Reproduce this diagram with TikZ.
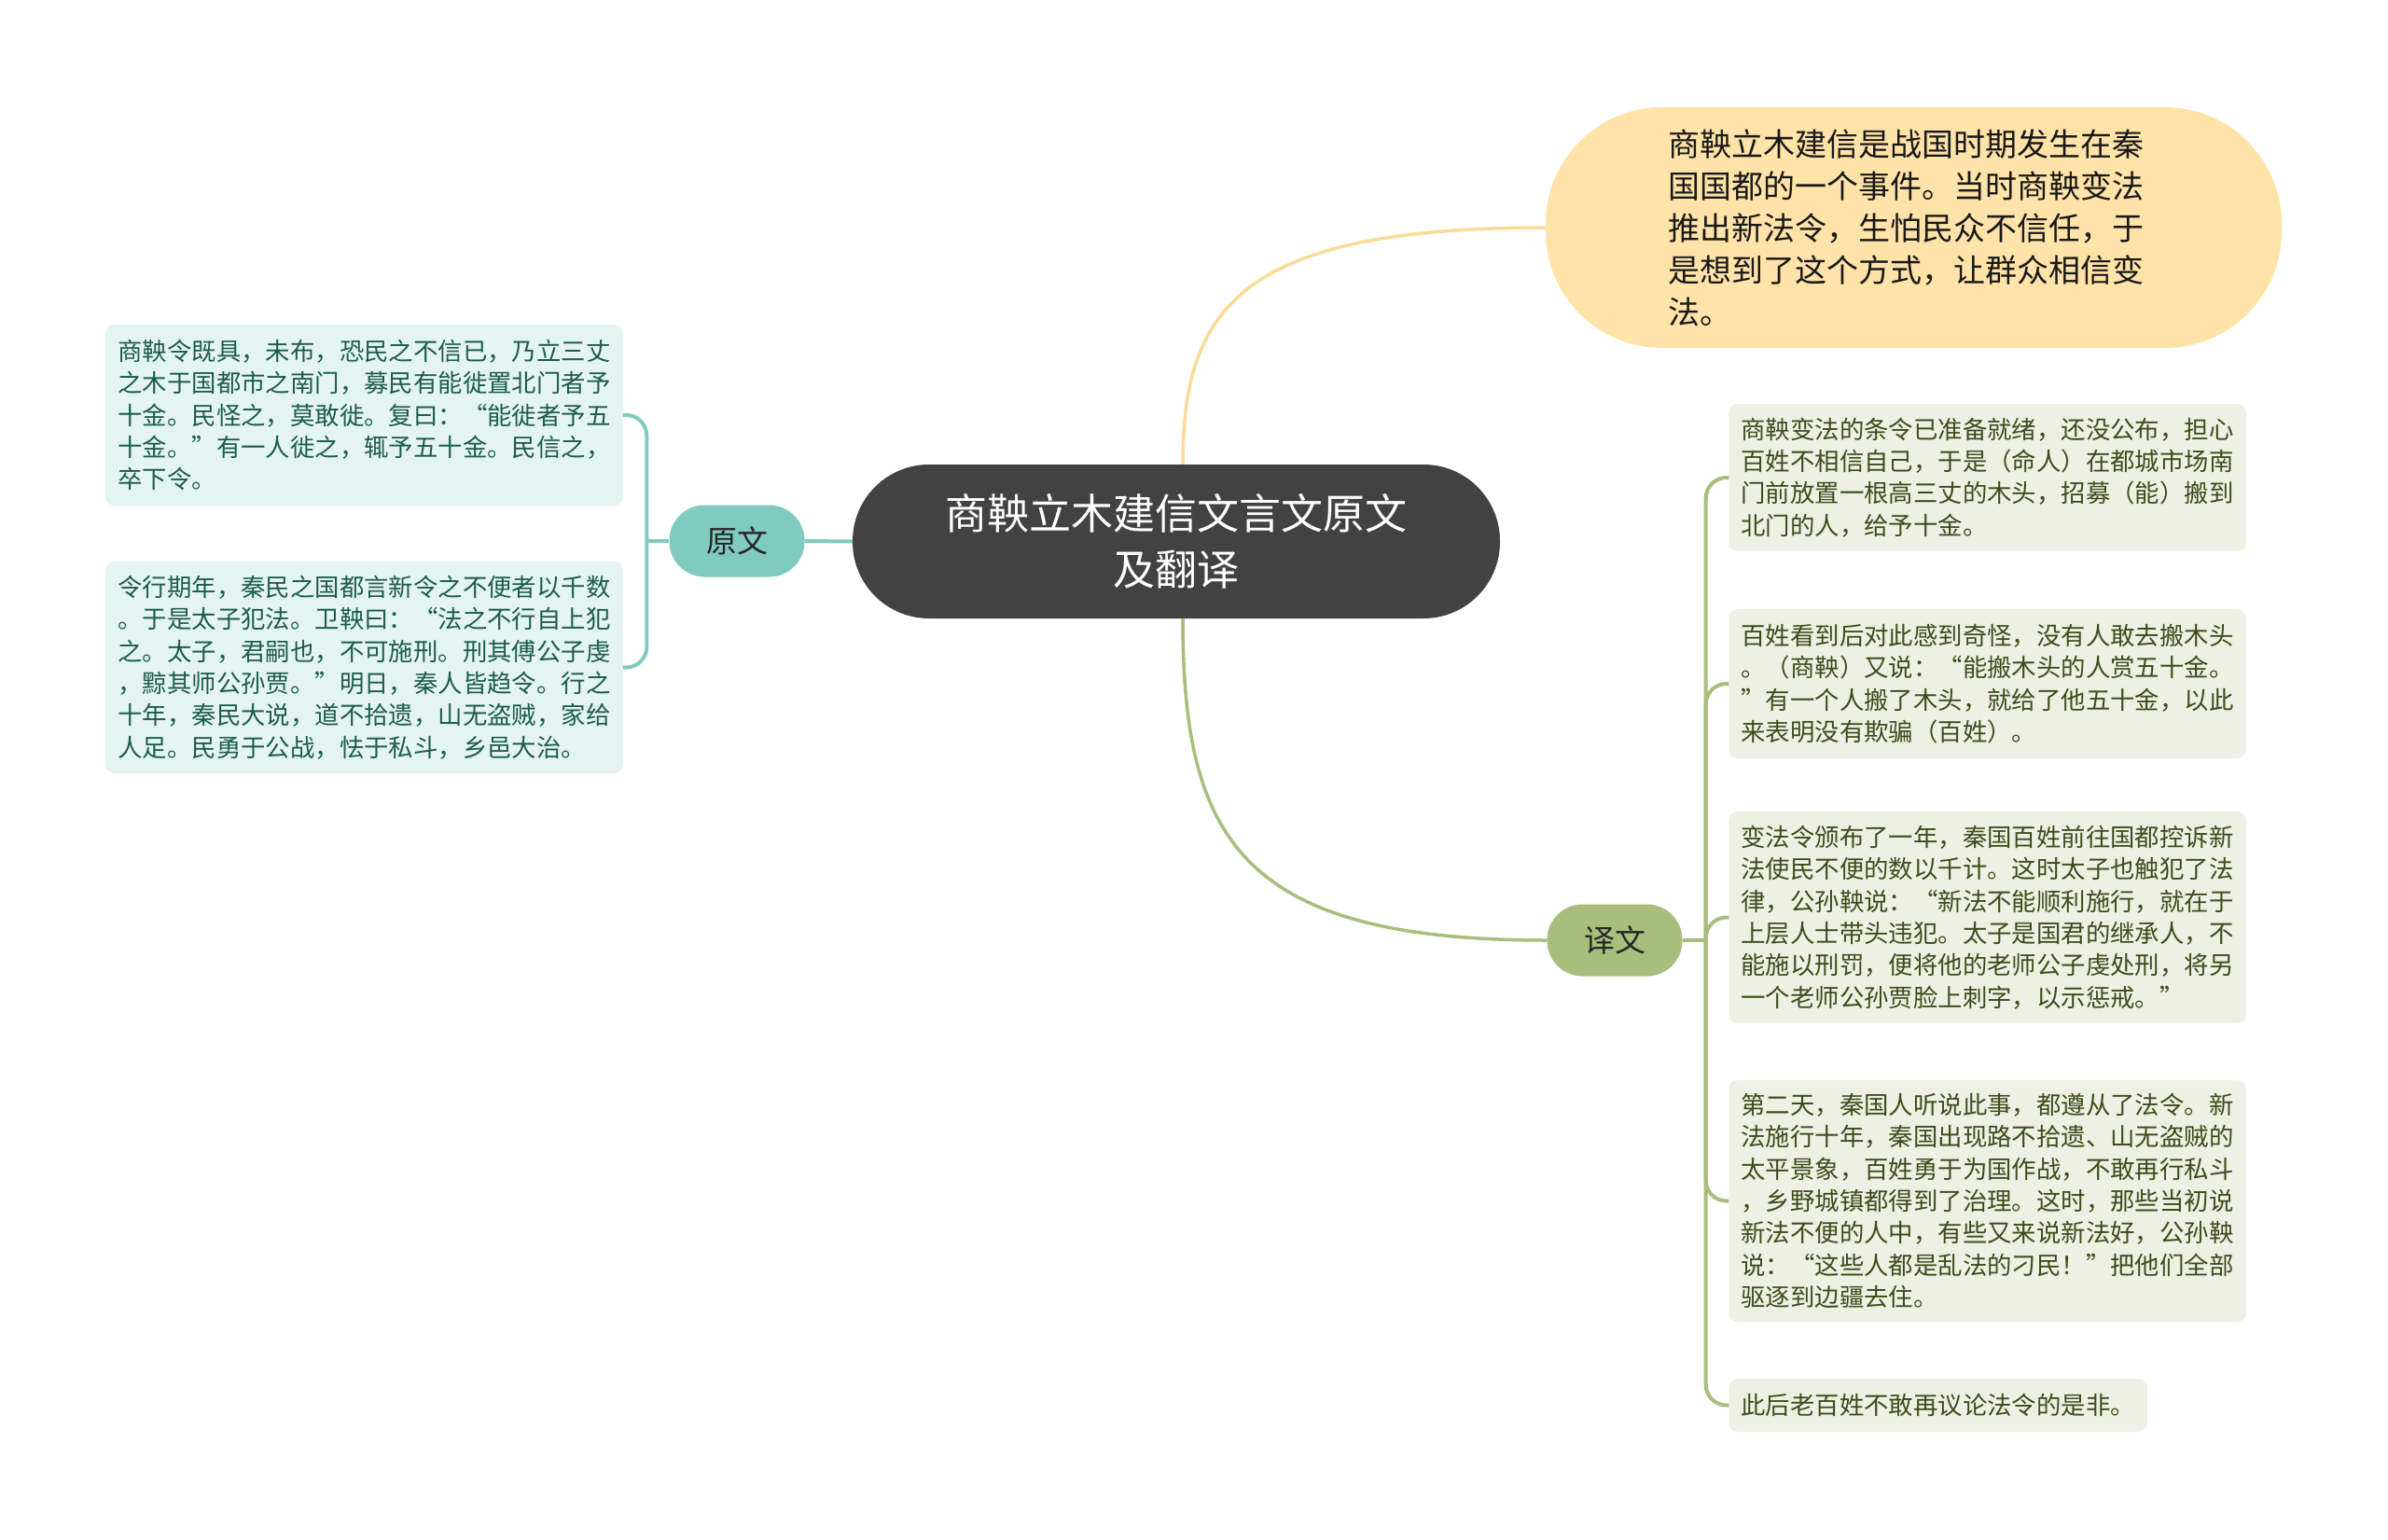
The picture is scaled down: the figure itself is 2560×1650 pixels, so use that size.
\documentclass[tikz,border=0pt]{standalone}
\usepackage{fontspec}
\setmainfont{Noto Sans CJK SC}
\usetikzlibrary{calc}
\definecolor{tealc}{HTML}{80CBC0}
\definecolor{leafLfill}{HTML}{E4F4F0}
\definecolor{leafLtext}{HTML}{1D5C4C}
\definecolor{greenc}{HTML}{A7BE7C}
\definecolor{leafRfill}{HTML}{EDF0E3}
\definecolor{leafRtext}{HTML}{3D4C1C}
\definecolor{yellowc}{HTML}{FFE3A8}
\definecolor{yellowline}{HTML}{FBDB98}
\definecolor{rootc}{HTML}{424242}
\tikzset{
  leafbase/.style={draw=none, rounded corners=10pt, align=left, text width=528pt,
    inner xsep=13.5pt, inner ysep=0pt, font=\fontsize{26.4}{34.3}\selectfont},
  leafL/.style={leafbase, fill=leafLfill, text=leafLtext},
  leafR/.style={leafbase, fill=leafRfill, text=leafRtext},
  branchnode/.style={draw=none, minimum width=145pt, minimum height=77pt, rounded corners=38pt,
    inner sep=0pt, text=black!85, font=\fontsize{33}{40}\selectfont},
  tealline/.style={draw=tealc, line width=4pt},
  greenline/.style={draw=greenc, line width=4pt},
}
\begin{document}
\begin{tikzpicture}[x=1pt,y=-1pt]
\useasboundingbox[fill=white] (0,0) rectangle (2560,1650);

% root
\node[fill=rootc, text=white, minimum width=694pt, minimum height=165pt, rounded corners=82pt,
  align=center, inner sep=0pt, font=\fontsize{45}{60}\selectfont] (root) at (1261,580.5)
  {商鞅立木建信文言文原文\\及翻译};

% summary
\node[fill=yellowc, text=black!90, minimum width=789pt, minimum height=258pt, rounded corners=125pt,
  align=left, text width=527pt, inner xsep=0pt, inner ysep=0pt, font=\fontsize{34}{45}\selectfont]
  (summary) at (2051.5,244)
  {商鞅立木建信是战国时期发生在秦\\国国都的一个事件。当时商鞅变法\\推出新法令，生怕民众不信任，于\\是想到了这个方式，让群众相信变\\法。};

% branches
\node[branchnode, fill=tealc] (yuanwen) at (790,580) {原文};
\node[branchnode, fill=greenc] (yiwen) at (1731,1008) {译文};

% left leaves
\node[leafL, minimum height=194pt] (L1) at (390.5,445)
  {商鞅令既具，未布，恐民之不信已，乃立三丈\\之木于国都市之南门，募民有能徙置北门者予\\十金。民怪之，莫敢徙。复曰：“能徙者予五\\十金。”有一人徙之，辄予五十金。民信之，\\卒下令。};
\node[leafL, minimum height=227pt] (L2) at (390.5,715.5)
  {令行期年，秦民之国都言新令之不便者以千数\\。于是太子犯法。卫鞅曰：“法之不行自上犯\\之。太子，君嗣也，不可施刑。刑其傅公子虔\\，黥其师公孙贾。”明日，秦人皆趋令。行之\\十年，秦民大说，道不拾遗，山无盗贼，家给\\人足。民勇于公战，怯于私斗，乡邑大治。};

% right leaves
\node[leafR, minimum height=158pt] (R1) at (2130.5,512)
  {商鞅变法的条令已准备就绪，还没公布，担心\\百姓不相信自己，于是（命人）在都城市场南\\门前放置一根高三丈的木头，招募（能）搬到\\北门的人，给予十金。};
\node[leafR, minimum height=160pt] (R2) at (2130.5,733)
  {百姓看到后对此感到奇怪，没有人敢去搬木头\\。（商鞅）又说：“能搬木头的人赏五十金。\\”有一个人搬了木头，就给了他五十金，以此\\来表明没有欺骗（百姓）。};
\node[leafR, minimum height=227pt] (R3) at (2130.5,983.5)
  {变法令颁布了一年，秦国百姓前往国都控诉新\\法使民不便的数以千计。这时太子也触犯了法\\律，公孙鞅说：“新法不能顺利施行，就在于\\上层人士带头违犯。太子是国君的继承人，不\\能施以刑罚，便将他的老师公子虔处刑，将另\\一个老师公孙贾脸上刺字，以示惩戒。”};
\node[leafR, minimum height=259pt] (R4) at (2130.5,1287.5)
  {第二天，秦国人听说此事，都遵从了法令。新\\法施行十年，秦国出现路不拾遗、山无盗贼的\\太平景象，百姓勇于为国作战，不敢再行私斗\\，乡野城镇都得到了治理。这时，那些当初说\\新法不便的人中，有些又来说新法好，公孙鞅\\说：“这些人都是乱法的刁民！”把他们全部\\驱逐到边疆去住。};
\node[leafR, text width=422pt, minimum height=57pt] (R5) at (2077.5,1506.5)
  {此后老百姓不敢再议论法令的是非。};

% root connectors
\draw[tealline] (root.west) -- (yuanwen.east);
\draw[draw=yellowline, line width=3.5pt] ([xshift=7pt]root.north)
  .. controls ($([xshift=7pt]root.north)+(0,-168)$) and ($(summary.west)+(-327,0)$) .. (summary.west);
\draw[greenline, line width=3.5pt] ([xshift=7pt]root.south)
  .. controls ($([xshift=7pt]root.south)+(0,237)$) and ($(yiwen.west)+(-328,0)$) .. (yiwen.west);

% left bracket
\coordinate (jl) at ($(yuanwen.west)+(-24,0)$);
\draw[tealline] (yuanwen.west) -- (jl);
\draw[tealline, rounded corners=22pt] (jl) |- (L1.east);
\draw[tealline, rounded corners=22pt] (jl) |- (L2.east);

% right bracket
\coordinate (jr) at ($(yiwen.east)+(25,0)$);
\draw[greenline] (yiwen.east) -- (jr);
\foreach \c in {R1,R2,R3,R4,R5}
  \draw[greenline, rounded corners=22pt] (jr) |- (\c.west);
\end{tikzpicture}
\end{document}
